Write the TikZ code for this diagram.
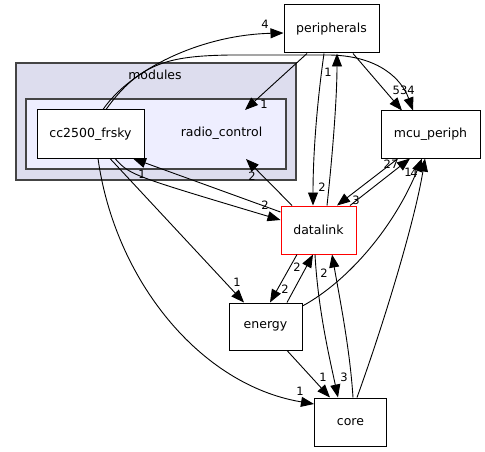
\documentclass[tikz,border=0pt]{standalone}
\usepackage{fontspec}
\setmainfont{DejaVu Sans}
\usetikzlibrary{arrows.meta}
\definecolor{clusterA}{HTML}{DDDDEE}
\definecolor{clusterB}{HTML}{EEEEFF}
\definecolor{bord}{HTML}{444444}
\begin{document}
\begin{tikzpicture}[x=1pt,y=-1pt,
  box/.style={draw=black, line width=1pt, fill=white, inner sep=0pt, font=\fontsize{12.5}{15}\selectfont},
  cluster/.style={draw=bord, line width=1.3pt, inner sep=0pt},
  txt/.style={inner sep=0pt, font=\fontsize{12.5}{15}\selectfont},
  dep/.style={line width=0.9pt, -{Triangle[length=13pt,width=10pt]}},
  lbl/.style={font=\fontsize{11.5}{14}\selectfont, inner sep=0pt}]
\useasboundingbox (0,0) rectangle (485,452);
% clusters
\node[cluster, fill=clusterA, minimum width=280pt, minimum height=117pt] (modules) at (156,121.5) {};
\node[txt] (modlabel) at (155,75) {modules};
\node[cluster, fill=clusterB, minimum width=260pt, minimum height=70pt] (rc) at (156,134) {};
\node[txt] (rclabel) at (221.5,133) {radio\_control};
\coordinate (rcin1) at (245,110);
\coordinate (rcin2) at (246,159);
% nodes
\node[box, minimum width=107pt, minimum height=48pt] (cc) at (90.5,134) {cc2500\_frsky};
\node[box, minimum width=95pt, minimum height=48pt] (peri) at (331.5,29) {peripherals};
\node[box, minimum width=99pt, minimum height=47pt] (mcu) at (430.5,134.5) {mcu\_periph};
\node[box, draw=red, minimum width=75pt, minimum height=48pt] (dl) at (318.5,230) {datalink};
\node[box, minimum width=73pt, minimum height=47pt] (en) at (265.5,326.5) {energy};
\node[box, minimum width=72pt, minimum height=48pt] (core) at (350.5,422) {core};
% edges
\draw[dep] ([xshift=12.5pt]cc.north) .. controls (130,70) and (200,35) .. ([yshift=-4pt]peri.west);
\node[lbl] (l1) at (265,24) {4};
\draw[dep] ([xshift=15.5pt]cc.north) .. controls (140,62) and (170,56) .. (230,55) -- (330,55) .. controls (380,56) and (402,80) .. ([xshift=-17.5pt]mcu.north);
\node[lbl] (l2) at (411,90) {4};
\draw[dep] ([xshift=21.5pt]peri.south) -- ([xshift=-28.5pt]mcu.north);
\node[lbl] (l3) at (400,90) {53};
\draw[dep] ([xshift=-24.5pt]peri.south) -- (rcin1);
\node[lbl] (l4) at (264,104) {1};
\draw[dep] ([xshift=-7.5pt]peri.south) .. controls (316,110) and (313,160) .. ([xshift=-5.5pt]dl.north);
\node[lbl] (l5) at (322,187) {2};
\draw[dep] ([xshift=8.5pt]dl.north) .. controls (332,160) and (337,100) .. ([xshift=5.5pt]peri.south);
\node[lbl] (l6) at (328,72) {1};
\draw[dep] ([xshift=-26.5pt]dl.north) -- (rcin2);
\node[lbl] (l7) at (252,176) {2};
\draw[dep] ([xshift=24.5pt]cc.south) .. controls (130,175) .. ([yshift=10pt]dl.west);
\node[lbl] (l8) at (265,205) {2};
\draw[dep] ([yshift=18pt]dl.west) -- ([xshift=42.5pt]cc.south);
\node[lbl] (l9) at (142,174) {1};
\draw[dep] ([xshift=31.5pt]dl.north) -- ([xshift=-20.5pt]mcu.south);
\node[lbl] (l10) at (391,164) {27};
\draw[dep] ([xshift=-32.5pt]mcu.south) -- ([xshift=18.5pt]dl.north);
\node[lbl] (l11) at (356,200) {3};
\draw[dep] ([yshift=20.5pt]en.east) .. controls (350,280) and (395,225) .. ([xshift=-8.5pt]mcu.south);
\node[lbl] (l12) at (408,172) {1};
\draw[dep] ([xshift=6.5pt]core.north) .. controls (385,320) and (415,220) .. ([xshift=-5.5pt]mcu.south);
\node[lbl] (l13) at (414,173) {4};
\draw[dep] ([xshift=-21.5pt]dl.south) -- ([xshift=4.5pt]en.north);
\node[lbl] (l14) at (285,289) {2};
\draw[dep] ([xshift=21.5pt]en.north) -- ([xshift=-5.5pt]dl.south);
\node[lbl] (l15) at (297,267) {2};
\draw[dep] ([xshift=-3.5pt]dl.south) .. controls (318,310) and (330,360) .. ([xshift=-12.5pt]core.north);
\node[lbl] (l16) at (344,377) {3};
\draw[dep] ([xshift=2.5pt]core.north) .. controls (350,350) and (340,300) .. ([xshift=13.5pt]dl.south);
\node[lbl] (l17) at (324,273) {2};
\draw[dep] ([xshift=21.5pt]en.south) -- ([xshift=-20.5pt]core.north);
\node[lbl] (l18) at (323,377) {1};
\draw[dep] ([xshift=19.5pt]cc.south) -- ([xshift=-21.5pt]en.north);
\node[lbl] (l19) at (237,282) {1};
\draw[dep] ([xshift=7.5pt]cc.south) .. controls (115,280) and (200,385) .. ([yshift=18pt]core.west);
\node[lbl] (l20) at (300,391) {1};
\end{tikzpicture}
\end{document}
